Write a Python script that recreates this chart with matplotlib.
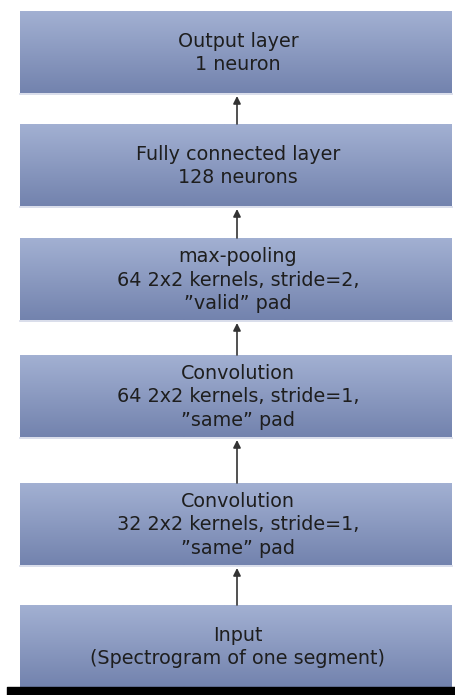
import matplotlib.pyplot as plt
import numpy as np
from matplotlib.colors import LinearSegmentedColormap

# layers from top to bottom
layer_titles = ["Output layer", "Fully connected layer", "max-pooling",
                "Convolution", "Convolution", "Input"]
layer_details = ["1 neuron", "128 neurons",
                 "64 2x2 kernels, stride=2,\n\u201dvalid\u201d pad",
                 "64 2x2 kernels, stride=1,\n\u201dsame\u201d pad",
                 "32 2x2 kernels, stride=1,\n\u201dsame\u201d pad",
                 "(Spectrogram of one segment)"]

# layout in pixels
box_tops = [11, 124, 238, 355, 483, 605]
box_h = 82
box_left, box_right = 20, 452
arrow_x = 237

W, H = 456, 695
fig = plt.figure(figsize=(W / 100, H / 100), dpi=100)
ax = fig.add_axes([0, 0, 1, 1])
ax.set_xlim(0, W)
ax.set_ylim(H, 0)
ax.axis('off')

cmap = LinearSegmentedColormap.from_list('box', ['#a2b0d2', '#7383ae'])
grad = np.linspace(0, 1, 64).reshape(-1, 1)

for top, title, detail in zip(box_tops, layer_titles, layer_details):
    bottom = top + box_h
    ax.imshow(grad, cmap=cmap, aspect='auto', interpolation='bilinear',
              extent=(box_left, box_right, bottom, top), zorder=1)
    ax.plot([box_left, box_right], [bottom + 1, bottom + 1], color='#d3d8e8',
            lw=1.2, zorder=2)
    text = title + "\n" + detail
    ax.text((box_left + box_right) / 2 + 2, top + box_h / 2 + 1, text,
            ha='center', va='center', fontsize=13.8, color='#1e1e1e',
            linespacing=1.3, family='DejaVu Sans', zorder=3)

# arrows from each box up to the one above
for upper, lower in zip(box_tops[:-1], box_tops[1:]):
    ax.annotate('', xy=(arrow_x, upper + box_h + 3), xytext=(arrow_x, lower),
                arrowprops=dict(arrowstyle='-|>', color='#333333', lw=1.2,
                                mutation_scale=11, shrinkA=0, shrinkB=0),
                zorder=3)

# black strip at bottom
ax.fill_between([7, W], 687, H, color='black', zorder=4)

ax.set_xlim(0, W)
ax.set_ylim(H, 0)
fig.savefig('out.png', dpi=100)
